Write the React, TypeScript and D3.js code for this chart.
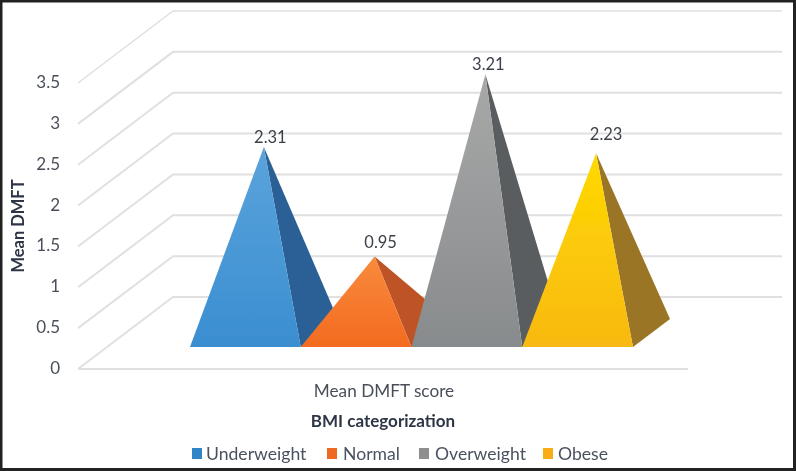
import React from "react";
import * as d3 from "d3";

const categories = ["Underweight", "Normal", "Overweight", "Obese"];
const values = [2.31, 0.95, 3.21, 2.23];
const valueLabels = ["2.31", "0.95", "3.21", "2.23"];
const yTicks = [0, 0.5, 1, 1.5, 2, 2.5, 3, 3.5];
const tickLabels = ["0", "0.5", "1", "1.5", "2", "2.5", "3", "3.5"];
const frontTop = ["#5BA3DC", "#F98A3C", "#A8A8A8", "#FFD900"];
const frontBottom = ["#3A8ED0", "#F26B21", "#888B8D", "#F8B912"];
const sideColor = ["#2A6096", "#BE5326", "#5A5D5F", "#9A7428"];
const legendSwatch = ["#2E86C8", "#EE6A24", "#8E8E8E", "#F8AC14"];
const legendSwatchX = [192, 327, 419, 543];
const legendTextX = [206, 343, 435, 558];
const labelDx = [6.5, 6, 3, 10];
const labelDy = [-4, -8, -4, -13];

const W = 796, H = 471;
const ink = "#3A3F4A";
const font = "Lato, 'Open Sans', sans-serif";
const wallDx = 95, wallDy = -72;
const depthDx = 37, depthDy = -28;
const baseY = 347;

const yFront = d3.scaleLinear().domain([0, 3.5]).range([369, 83]);
const xBand = d3.scaleBand<string>().domain(categories).range([190, 633]);
const yApex = d3.scaleLinear().domain([0, 3.5]).range([0, 282]);
const poly = d3.line();

export default function App() {
  const bw = xBand.bandwidth();
  return (
    <svg width={W} height={H} viewBox={`0 0 ${W} ${H}`} style={{ position: "absolute", left: 0, top: 0, background: "#fff" }} fontFamily={font}>
      <defs>
        <filter id="soft" x="0" y="0" width="100%" height="100%">
          <feGaussianBlur stdDeviation="0.55" />
        </filter>
        {categories.map((c, i) => (
          <linearGradient key={c} id={`g${i}`} x1="0" y1="0" x2="0" y2="1">
            <stop offset="0" stopColor={frontTop[i]} />
            <stop offset="1" stopColor={frontBottom[i]} />
          </linearGradient>
        ))}
      </defs>
      <g filter="url(#soft)">
        <rect width={W} height={H} fill="#fff" />
        {yTicks.map((t) => {
          const y0 = yFront(t);
          return (
            <path key={t} fill="none" stroke="#E0E0E0" strokeWidth={t === 3.5 ? 1.5 : 2}
              d={poly([[78, y0], [78 + wallDx, y0 + wallDy], [782, y0 + wallDy]]) as string} />
          );
        })}
        <line x1={78} x2={688} y1={yFront(0)} y2={yFront(0)} stroke="#E0E0E0" strokeWidth={2} />
        {categories.map((c, i) => {
          const x0 = xBand(c) as number;
          const x1 = x0 + bw;
          const ax = x0 + bw / 2 + depthDx / 2;
          const ay = baseY + depthDy / 2 - yApex(values[i]);
          return (
            <g key={c}>
              <path fill={sideColor[i]} d={(poly([[x1, baseY], [x1 + depthDx, baseY + depthDy], [ax, ay]]) as string) + "Z"} />
              <path fill={`url(#g${i})`} d={(poly([[x0, baseY], [x1, baseY], [ax, ay]]) as string) + "Z"} />
            </g>
          );
        })}
        {categories.map((c, i) => {
          const ax = (xBand(c) as number) + bw / 2 + depthDx / 2;
          const ay = baseY + depthDy / 2 - yApex(values[i]);
          return (
            <text key={c} x={ax + labelDx[i]} y={ay + labelDy[i]} textAnchor="middle" fontSize={16.5} fill={ink}>
              {valueLabels[i]}
            </text>
          );
        })}
        {yTicks.map((t, i) => (
          <text key={t} x={60} y={yFront(t) + 5} textAnchor="end" fontSize={17} fill="#4A4F58">
            {tickLabels[i]}
          </text>
        ))}
        <text transform="translate(24,226) rotate(-90)" textAnchor="middle" fontSize={16.5} fontWeight={700} fill="#2E3646">
          Mean DMFT
        </text>
        <text x={384} y={397} textAnchor="middle" fontSize={17.2} fill="#4A4F58">Mean DMFT score</text>
        <text x={383} y={427} textAnchor="middle" fontSize={17} fontWeight={700} fill="#2E3646">BMI categorization</text>
        {categories.map((c, i) => (
          <g key={c}>
            <rect x={legendSwatchX[i]} y={448} width={10} height={11} fill={legendSwatch[i]} />
            <text x={legendTextX[i]} y={460} fontSize={17.6} fill="#4A5260">{c}</text>
          </g>
        ))}
      </g>
      <rect x={1} y={1} width={W - 2.5} height={H - 2.5} fill="none" stroke="#222" strokeWidth={3} />
    </svg>
  );
}
